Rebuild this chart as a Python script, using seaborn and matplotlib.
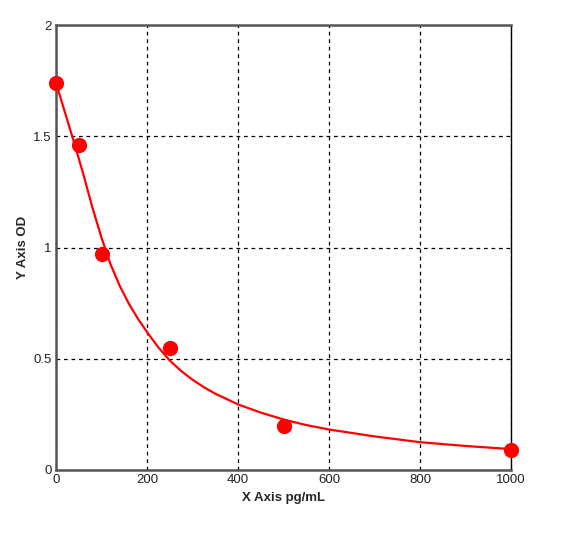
import matplotlib
matplotlib.use("Agg")
import matplotlib.pyplot as plt
import seaborn as sns
import pandas as pd

# measured standard points
conc = [0, 50, 100, 250, 500, 1000]
od = [1.74, 1.46, 0.97, 0.55, 0.20, 0.09]

# fitted curve
curve_x = [0, 20, 40, 60, 80, 100, 120, 140, 160, 180, 200, 225, 250, 275, 300, 325, 350,
           400, 450, 500, 550, 600, 700, 800, 900, 1000]
curve_y = [1.74, 1.605, 1.47, 1.33, 1.18, 1.044, 0.924, 0.828, 0.748, 0.68, 0.62, 0.551, 0.492,
           0.445, 0.406, 0.372, 0.343, 0.295, 0.258, 0.227, 0.202, 0.182, 0.151, 0.125, 0.108, 0.094]

x_ticks = [0, 200, 400, 600, 800, 1000]
y_ticks = [0, 0.5, 1, 1.5, 2]
y_tick_labels = ["0", "0.5", "1", "1.5", "2"]

sns.set_style("white")
plt.rcParams['font.family'] = ['Liberation Sans', 'DejaVu Sans']

fig = plt.figure(figsize=(5.83, 5.34), dpi=100)
ax = fig.add_axes([56/583, 64/534, 455/583, 445/534])

df_curve = pd.DataFrame({"x": curve_x, "y": curve_y})
df_pts = pd.DataFrame({"x": conc, "y": od})

sns.lineplot(data=df_curve, x="x", y="y", ax=ax, color="#ff0000", linewidth=1.6, zorder=3)
sns.scatterplot(data=df_pts, x="x", y="y", ax=ax, color="#ff0000", s=120, edgecolor="#ff0000",
                linewidth=0, zorder=4, clip_on=False)

ax.set_xlim(0, 1000)
ax.set_ylim(0, 2)
ax.set_xticks(x_ticks)
ax.set_xticklabels([str(t) for t in x_ticks])
ax.set_yticks(y_ticks)
ax.set_yticklabels(y_tick_labels)
ax.tick_params(axis='both', length=0, labelsize=9.5, colors="#222222", pad=3)
ax.grid(True, color="black", linestyle=(0, (3, 3)), linewidth=0.9)

for side in ["left", "bottom", "top"]:
    ax.spines[side].set_color("#555555")
    ax.spines[side].set_linewidth(1.8)
ax.spines["right"].set_color("black")
ax.spines["right"].set_linewidth(1.0)

ax.set_xlabel("X Axis pg/mL", fontweight="bold", fontsize=9.5, labelpad=4)
ax.set_ylabel("Y Axis OD", fontweight="bold", fontsize=9.5, labelpad=3)

fig.savefig("out.png", dpi=100)
